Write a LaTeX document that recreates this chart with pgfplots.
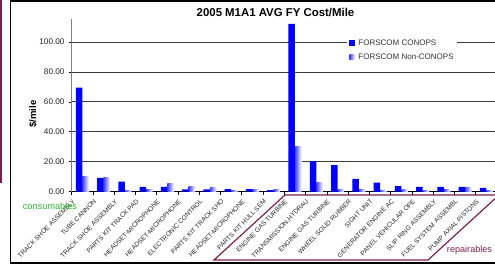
\documentclass[border=0pt]{standalone}
\usepackage{pgfplots}
\pgfplotsset{compat=1.18}
\usepackage{pgfplotstable}
\usepackage{fontspec}
\setmainfont{Liberation Sans}
\definecolor{barblue}{RGB}{0,0,255}
\definecolor{lightblue}{RGB}{60,60,255}
\definecolor{maroonc}{RGB}{125,30,80}
\definecolor{consgreen}{RGB}{50,180,50}
\definecolor{gridc}{RGB}{60,60,60}
\pgfplotstableread{
x c n
1 69.5 10.0
2 9.3 9.2
3 6.7 0.9
4 3.3 1.8
5 3.3 5.2
6 1.6 3.2
7 1.6 2.5
8 1.8 1.1
9 1.8 1.5
10 1.1 1.8
11 112 30.5
12 20.5 6.0
13 17.8 1.8
14 8.5 1.8
15 6.0 1.0
16 3.8 1.8
17 3.2 1.1
18 3.2 1.8
19 3.3 2.6
20 2.6 1.1
}\datatable
\begin{document}
\begin{tikzpicture}[x=1pt,y=1pt]
\useasboundingbox (0,0) rectangle (495,267);
\clip (0,0) rectangle (495,267);
\draw[maroonc, line width=1.5pt] (1.0,267) -- (1.0,84);
\draw[black, line width=1.2pt] (10.6,4) rectangle (510,266);
\begin{axis}[
  at={(71.7pt,75.3pt)}, anchor=south west,
  scale only axis, width=425.3pt, height=172.2pt,
  xmin=0.5, xmax=20.5, ymin=0, ymax=115,
  ybar=0pt, bar width=6.5pt,
  axis x line*=bottom, axis y line*=left,
  x axis line style={black, line width=0.8pt},
  y axis line style={gray, line width=0.8pt},
  tick align=outside,
  xtick={1,...,20},
  xticklabels={TRACK SHOE ASSEMBLY, TUBE CANNON, TRACK SHOE ASSEMBLY, PARTS KIT TRACK PAD, HEADSET-MICROPHONE, HEADSET-MICROPHONE, ELECTRONIC CONTROL, PARTS KIT TRACK SHO, HEADSET-MICROPHONE, PARTS KIT HULL SEM, ENGINE GAS TURBINE, {TRANSMISSION,HYDRAU}, ENGINE GAS TURBINE, WHEEL SOLID RUBBER, SIGHT UNIT, GENERATOR ENGINE AC, PANEL VEHICULAR OPE, SLIP RING ASSEMBLY, FUEL SYSTEM ASSEMBL, PUMP AXIAL PISTONS},
  major x tick style={draw=none},
  minor xtick={0.5,1.5,...,19.5},
  minor x tick style={black, line width=0.7pt},
  minor tick length=3.5pt,
  major tick length=3pt,
  xticklabel style={font=\fontsize{6.5}{7.5}\selectfont, inner sep=0pt, anchor=east, xshift=-8.5pt, yshift=-5.5pt, rotate=46, text=black!85},
  ytick={0,20,40,60,80,100},
  yticklabels={0.00,20.00,40.00,60.00,80.00,100.00},
  major y tick style={black, line width=0.7pt},
  yticklabel style={font=\fontsize{8.2}{9}\selectfont, inner sep=0pt, xshift=-4pt, text=black!85},
  ymajorgrids, major grid style={gridc, line width=0.8pt},
  /pgf/number format/assume math mode=true,
  legend style={at={(rel axis cs:0.648,0.905)}, anchor=north west, draw=none, fill=white, inner sep=2pt, row sep=4.5pt, column sep=2.5pt,
     font=\fontsize{8}{9}\selectfont, nodes={inner sep=1pt, text height=6pt, text depth=1.5pt, text=black!80}},
  legend cell align=left,
]
\addplot[fill=barblue, draw=none, bar shift=-3.25pt, legend image code/.code={\fill[barblue] (0pt,-2.7pt) rectangle (5.5pt,2.7pt);}] table[x=x, y=c] {\datatable};
\addlegendentry{FORSCOM CONOPS}
\pgfplotsinvokeforeach{1,...,20}{
  \addplot[draw=none, left color=lightblue, right color=white, bar shift=3.25pt, forget plot,
    x filter/.expression={abs(x-#1)<0.1 ? x : nan}] table[x=x, y=n] {\datatable};
}
\addlegendimage{draw=none, legend image code/.code={\path[draw=none, left color=lightblue, right color=white] (0pt,-2.2pt) rectangle (5.5pt,2.2pt);}}
\addlegendentry{FORSCOM Non-CONOPS}
\end{axis}
\node[font=\bfseries\fontsize{11.4}{13}\selectfont] at (275.5,255) {2005 M1A1 AVG FY Cost/Mile};
\node[rotate=90, font=\bfseries\fontsize{9.5}{11}\selectfont] at (33,153) {\$/mile};
\node[consgreen, font=\fontsize{9.2}{11}\selectfont] at (50,61) {consumables};
\draw[maroonc, line width=1.2pt, line join=miter] (214,7) -- (285,72) -- (499,72) -- (428,7) -- cycle;
\node[maroonc, font=\fontsize{9.1}{11}\selectfont] at (469.5,17) {repairables};
\end{tikzpicture}
\end{document}
